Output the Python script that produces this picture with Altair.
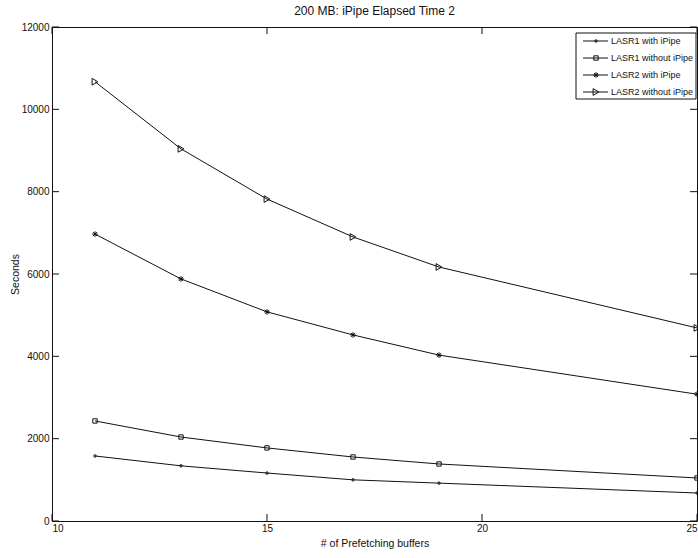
import altair as alt
import pandas as pd

# Prefetching buffer counts and elapsed seconds per configuration
buffers = [11, 13, 15, 17, 19, 25]
series_names = ["LASR1 with iPipe", "LASR1 without iPipe", "LASR2 with iPipe", "LASR2 without iPipe"]
lasr1_with = [1580, 1340, 1165, 1000, 920, 680]
lasr1_without = [2430, 2040, 1775, 1555, 1385, 1045]
lasr2_with = [6970, 5880, 5080, 4520, 4030, 3080]
lasr2_without = [10670, 9040, 7820, 6900, 6170, 4690]

x_ticks = [10, 15, 20, 25]
y_ticks = [0, 2000, 4000, 6000, 8000, 10000, 12000]

W, H = 645, 494
FONT = "Liberation Sans, Arial, sans-serif"
INK = "#111111"

rows = []
for name, vals in zip(series_names, [lasr1_with, lasr1_without, lasr2_with, lasr2_without]):
    for b, v in zip(buffers, vals):
        rows.append({"buffers": b, "seconds": v, "series": name})
df = pd.DataFrame(rows)

asterisk = "M-1,0L1,0M0,-1L0,1M-0.7,-0.7L0.7,0.7M-0.7,0.7L0.7,-0.7"
shape_scale = alt.Scale(domain=series_names,
                        range=["circle", "square", asterisk, "triangle-right"])
size_scale = alt.Scale(domain=series_names, range=[6, 45, 45, 50])

xs = alt.Scale(domain=[10, 25], nice=False)
ys = alt.Scale(domain=[0, 12000], nice=False)

base = alt.Chart(df)

lines = base.mark_line(color=INK, strokeWidth=1).encode(
    x=alt.X("buffers:Q", scale=xs,
            axis=alt.Axis(values=x_ticks, title="# of Prefetching buffers", format="d")),
    y=alt.Y("seconds:Q", scale=ys,
            axis=alt.Axis(values=y_ticks, title="Seconds", format="d")),
    detail="series:N",
)

points = base.mark_point(filled=False, color=INK, strokeWidth=1, opacity=1).encode(
    x=alt.X("buffers:Q", scale=xs),
    y=alt.Y("seconds:Q", scale=ys),
    shape=alt.Shape("series:N", scale=shape_scale, legend=None),
    size=alt.Size("series:N", scale=size_scale, legend=None),
)

# inward-pointing ticks on all four sides of the box
xt = pd.DataFrame({"t": x_ticks})
yt = pd.DataFrame({"t": y_ticks})
tick_style = dict(color=INK, strokeWidth=1)
tb = alt.Chart(xt).mark_rule(**tick_style).encode(
    x=alt.X("t:Q", scale=xs), y=alt.value(H), y2=alt.value(H - 7))
tt = alt.Chart(xt).mark_rule(**tick_style).encode(
    x=alt.X("t:Q", scale=xs), y=alt.value(0), y2=alt.value(7))
tl = alt.Chart(yt).mark_rule(**tick_style).encode(
    y=alt.Y("t:Q", scale=ys), x=alt.value(0), x2=alt.value(7))
tr = alt.Chart(yt).mark_rule(**tick_style).encode(
    y=alt.Y("t:Q", scale=ys), x=alt.value(W), x2=alt.value(W - 7))

main = alt.layer(lines, points, tb, tt, tl, tr)

# boxed legend in the upper right corner
leg_df = pd.DataFrame({"series": series_names, "order": list(range(len(series_names)))})
leg_y = alt.Y("order:Q", scale=alt.Scale(domain=[0, 3], range=[14, 65]), axis=None)
box = alt.Chart(pd.DataFrame({"k": [0]})).mark_rect(
    fill="white", stroke=INK, strokeWidth=1).encode(
    x=alt.value(524), x2=alt.value(644), y=alt.value(6), y2=alt.value(72))
leg_lines = alt.Chart(leg_df).mark_rule(color=INK, strokeWidth=1).encode(
    x=alt.value(531), x2=alt.value(556), y=leg_y)
leg_pts = alt.Chart(leg_df).mark_point(filled=False, color=INK, strokeWidth=1, opacity=1).encode(
    x=alt.value(544), y=leg_y,
    shape=alt.Shape("series:N", scale=shape_scale, legend=None),
    size=alt.Size("series:N", scale=size_scale, legend=None),
)
leg_text = alt.Chart(leg_df).mark_text(
    align="left", baseline="middle", font=FONT, fontSize=9, color=INK).encode(
    x=alt.value(559), y=leg_y, text="series:N")
legend = alt.layer(box, leg_lines, leg_pts, leg_text)

chart = alt.layer(main, legend).resolve_scale(y="independent").properties(
    width=W, height=H,
    title=alt.TitleParams("200 MB: iPipe Elapsed Time 2", font=FONT, fontSize=12,
                          fontWeight="normal", color=INK, anchor="middle", offset=4),
    autosize=alt.AutoSizeParams(type="none"),
    padding={"left": 52, "top": 27, "right": 1, "bottom": 37},
).configure_view(stroke=INK, strokeWidth=1).configure_axis(
    grid=False, ticks=False, domain=False,
    labelFont=FONT, labelFontSize=10, labelColor=INK, labelPadding=3,
    titleFont=FONT, titleFontSize=10.5, titleFontWeight="normal", titleColor=INK,
).configure_axisX(titlePadding=5, labelPadding=2).configure_axisY(titlePadding=1)

chart.save("out.html", embed_options={"renderer": "svg", "actions": False})
